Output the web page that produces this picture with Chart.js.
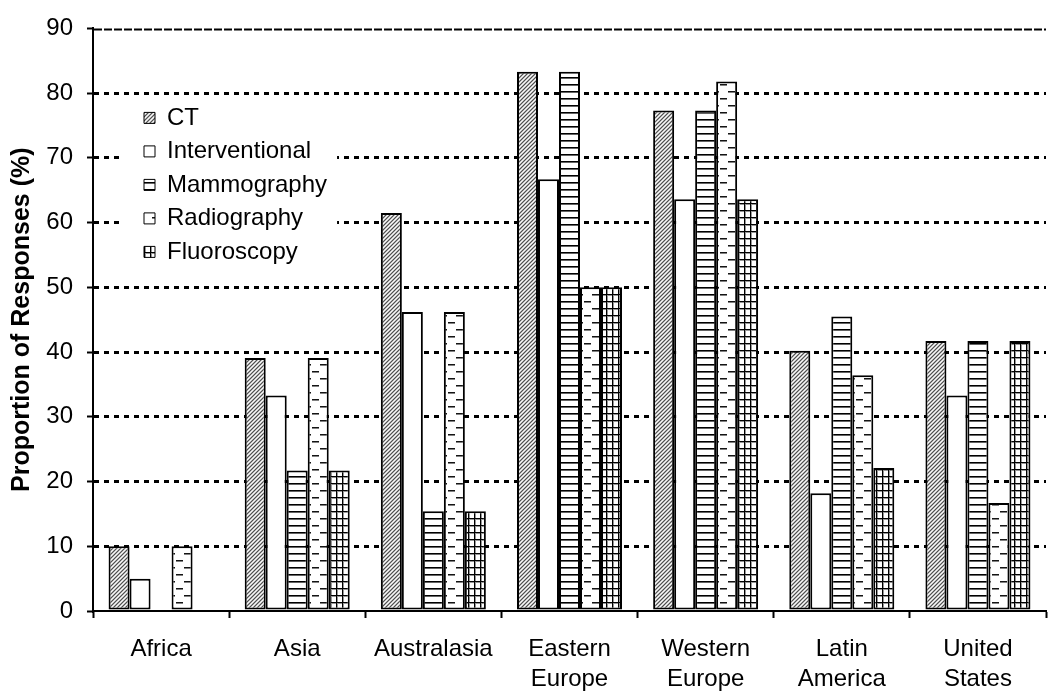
<!DOCTYPE html>
<html>
<head>
<meta charset="utf-8">
<script src="https://cdn.jsdelivr.net/npm/chart.js@4.4.1/dist/chart.umd.min.js"></script>
<style>
  html, body { margin: 0; padding: 0; background: #fff; }
  #wrap { width: 1049px; height: 697px; }
</style>
</head>
<body>
<div id="wrap"><canvas id="chart" width="1049" height="697"></canvas></div>
<script>
// Survey regions (x categories)
const regions = ['Africa', 'Asia', 'Australasia', ['Eastern', 'Europe'], ['Western', 'Europe'], ['Latin', 'America'], ['United', 'States']];

// Proportion of responses (%) per modality
const ctValues             = [10, 39.1, 61.5, 83.3, 77.3, 40.2, 41.7];
const interventionalValues = [5, 33.3, 46.2, 66.7, 63.6, 18.2, 33.3];
const mammographyValues    = [0, 21.7, 15.4, 83.3, 77.3, 45.5, 41.7];
const radiographyValues    = [10, 39.1, 46.2, 50, 81.8, 36.4, 16.7];
const fluoroscopyValues    = [0, 21.7, 15.4, 50, 63.6, 22.1, 41.7];

const seriesNames = ['CT', 'Interventional', 'Mammography', 'Radiography', 'Fluoroscopy'];

// y axis range
const yMin = 0;
const yMax = 90;
const yStep = 10;

const canvas = document.getElementById('chart');
const ctx = canvas.getContext('2d');

// Build a repeating monochrome fill from a grey-level function
function makePattern(w, h, shade) {
  const tile = document.createElement('canvas');
  tile.width = w; tile.height = h;
  const tctx = tile.getContext('2d');
  const img = tctx.createImageData(w, h);
  for (let y = 0; y < h; y++) {
    for (let x = 0; x < w; x++) {
      const g = shade(x, y);
      const i = (y * w + x) * 4;
      img.data[i] = g; img.data[i + 1] = g; img.data[i + 2] = g; img.data[i + 3] = 255;
    }
  }
  tctx.putImageData(img, 0, 0);
  return ctx.createPattern(tile, 'repeat');
}

// upward diagonal hatch
const hatchFill = makePattern(4, 4, (x, y) => [80, 185, 250, 185][(x + y) % 4]);
// horizontal lines
const stripeFill = makePattern(1, 7, (x, y) => (y === 0 ? 0 : y === 1 ? 100 : 255));
// staggered horizontal dashes
const dashFill = makePattern(16, 14, (x, y) => {
  const rowA = x < 7 && (y === 0 || y === 1);
  const rowB = x >= 8 && x < 15 && (y === 7 || y === 8);
  if (rowA || rowB) return (y === 0 || y === 7) ? 20 : 130;
  return 255;
});
// small grid
const gridFill = makePattern(6, 7, (x, y) => {
  if (x === 0 || y === 0) return 0;
  if (x === 1 || y === 1) return 150;
  return 255;
});

const fills = [hatchFill, '#ffffff', stripeFill, dashFill, gridFill];
const seriesValues = [ctValues, interventionalValues, mammographyValues, radiographyValues, fluoroscopyValues];

Chart.defaults.font.family = "'Liberation Sans', Arial, sans-serif";
Chart.defaults.color = '#000';

// Places the legend box inside the plot area, offset from the corner
const legendPlacement = {
  id: 'legendPlacement',
  afterLayout(chart) {
    const lg = chart.legend;
    const area = chart.chartArea;
    lg.left = area.left + 41.5;
    lg.top = area.top + 68;
    lg.right = lg.left + lg.width;
    lg.bottom = lg.top + lg.height;
  }
};

// Dense top frame line and a white panel behind the legend
const plotDecor = {
  id: 'plotDecor',
  beforeDatasetsDraw(chart) {
    const c = chart.ctx;
    const area = chart.chartArea;
    const yTop = chart.scales.y.getPixelForValue(yMax);
    c.save();
    c.strokeStyle = '#000';
    c.lineWidth = 2;
    c.setLineDash([8, 2]);
    c.beginPath();
    c.moveTo(area.left + 1, yTop + 1);
    c.lineTo(area.right, yTop + 1);
    c.stroke();
    c.restore();

    const lg = chart.legend;
    const hb = lg.legendHitBoxes;
    if (!hb || !hb.length) return;
    const l = Math.min(...hb.map(b => b.left)) - 24;
    const t = Math.min(...hb.map(b => b.top)) - 6;
    const r = Math.max(...hb.map(b => b.left + b.width)) + 10;
    const b = Math.max(...hb.map(b => b.top + b.height)) + 6;
    c.save();
    c.fillStyle = '#fff';
    c.fillRect(l, t, r - l, b - t);
    c.restore();
    lg.draw();
  }
};

new Chart(ctx, {
  type: 'bar',
  data: {
    labels: regions,
    datasets: seriesNames.map((name, i) => ({
      label: name,
      data: seriesValues[i],
      backgroundColor: fills[i],
      borderColor: '#000',
      borderWidth: 2,
      borderSkipped: false,
      categoryPercentage: 0.7713,
      barPercentage: 1.0
    }))
  },
  options: {
    responsive: false,
    animation: false,
    events: [],
    layout: { padding: { top: 17, right: 3, bottom: 0, left: 0 } },
    plugins: {
      tooltip: { enabled: false },
      legend: {
        position: 'chartArea',
        align: 'start',
        labels: {
          boxWidth: 11,
          boxHeight: 11,
          padding: 9.5,
          color: '#000',
          font: { size: 24 },
          generateLabels(chart) {
            const items = Chart.defaults.plugins.legend.labels.generateLabels(chart);
            items.forEach(it => { it.lineWidth = 1; it.strokeStyle = '#000'; });
            return items;
          }
        }
      }
    },
    scales: {
      x: {
        offset: true,
        afterFit(scale) { scale.height = 86; },
        grid: {
          offset: true,
          drawOnChartArea: false,
          drawTicks: true,
          tickLength: 7,
          tickWidth: 2,
          tickColor: '#000',
          color: '#000'
        },
        border: { display: true, color: '#000', width: 2 },
        ticks: {
          color: '#000',
          padding: 16,
          maxRotation: 0,
          autoSkip: false,
          font: { size: 24, lineHeight: 1.25 }
        }
      },
      y: {
        min: yMin,
        max: yMax,
        afterFit(scale) { scale.width = 93; },
        grid: {
          drawTicks: true,
          tickLength: 6,
          tickWidth: 2,
          tickColor: '#000',
          lineWidth: 3,
          color: (c) => (c.tick && (c.tick.value === yMin || c.tick.value === yMax)) ? 'rgba(0,0,0,0)' : '#000'
        },
        border: { display: true, color: '#000', width: 2, dash: [5, 5] },
        ticks: {
          stepSize: yStep,
          color: '#000',
          padding: 14,
          font: { size: 24 }
        },
        title: {
          display: true,
          text: 'Proportion of Responses (%)',
          color: '#000',
          padding: { top: 7, bottom: 0 },
          font: { size: 25, weight: 'bold' }
        }
      }
    }
  },
  plugins: [legendPlacement, plotDecor]
});
</script>
</body>
</html>
